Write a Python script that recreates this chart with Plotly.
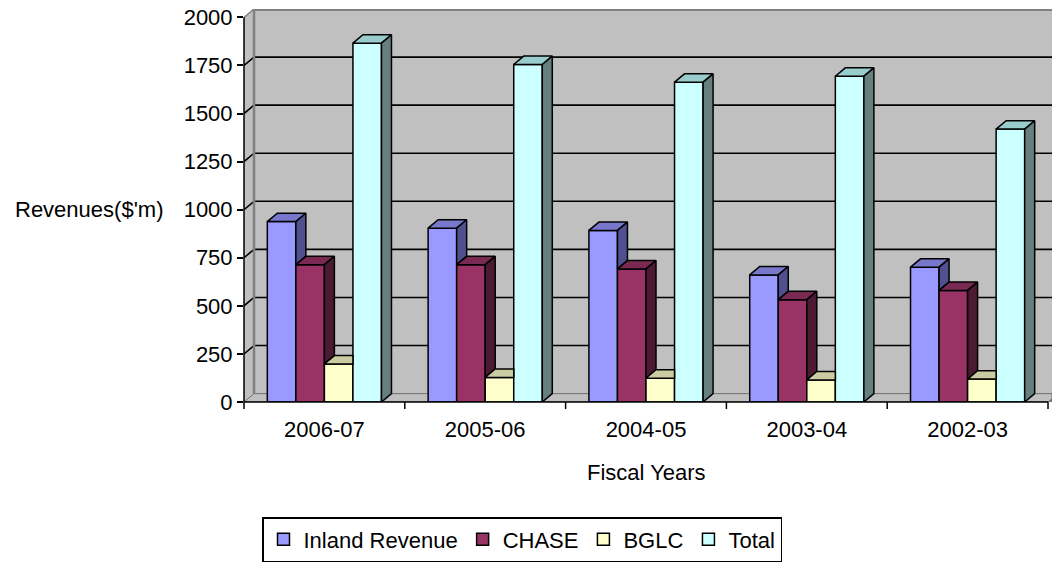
import plotly.graph_objects as go

# ---- data -------------------------------------------------------------
categories = ["2006-07", "2005-06", "2004-05", "2003-04", "2002-03"]
series_names = ["Inland Revenue", "CHASE", "BGLC", "Total"]
inland_revenue = [938, 904, 892, 661, 701]
chase = [714, 714, 692, 532, 580]
bglc = [198, 128, 124, 115, 119]
total = [1866, 1755, 1663, 1694, 1419]
y_ticks = [0, 250, 500, 750, 1000, 1250, 1500, 1750, 2000]

series_values = [inland_revenue, chase, bglc, total]

# ---- styling ----------------------------------------------------------
front_colors = ["#9999FF", "#993366", "#FFFFCC", "#CCFFFF"]
top_colors = ["#7777CC", "#7A2952", "#CCCCA3", "#99CCCC"]
side_colors = ["#505090", "#4D1A33", "#808066", "#668080"]
FONT = "Liberation Sans, Arial, sans-serif"
TEXT_SIZE = 22

W, H = 1052, 562
M_L, M_R, M_T, M_B = 244, 0, 9, 158
plot_w = W - M_L - M_R
plot_h = H - M_T - M_B

# pseudo-3D depth offset (pixels) converted into axis units
DEPTH_PX_X, DEPTH_PX_Y = 10.0, 8.4
y_max = y_ticks[-1]
px_per_val = (plot_h - DEPTH_PX_Y) / y_max
dy = DEPTH_PX_Y / px_per_val

n = len(categories)
px_per_cat = 160.8
x0 = -0.5
x_end = x0 + plot_w / px_per_cat
dx = DEPTH_PX_X / px_per_cat
bar_w = 0.1775
n_series = len(series_values)

fig = go.Figure()

# front faces of the columns
for k, (name, vals) in enumerate(zip(series_names, series_values)):
    fig.add_trace(go.Bar(
        x=list(range(n)), y=vals, name=name,
        width=bar_w, offset=(k - n_series / 2) * bar_w,
        marker=dict(color=front_colors[k], line=dict(color="black", width=1.5)),
        hoverinfo="skip",
    ))


def face(xs, ys, color):
    fig.add_trace(go.Scatter(
        x=xs + [xs[0]], y=ys + [ys[0]], mode="lines", fill="toself",
        fillcolor=color, line=dict(color="black", width=1.5),
        showlegend=False, hoverinfo="skip",
    ))


# top and right-hand faces, trimmed where the neighbouring column hides them
for j in range(n):
    for k in range(n_series):
        v = series_values[k][j]
        xl = j + (k - n_series / 2) * bar_w
        xr = xl + bar_w
        nxt = series_values[k + 1][j] if k + 1 < n_series else None
        if nxt is None or nxt <= v:
            face([xl, xr, xr + dx, xl + dx], [v, v, v + dy, v + dy], top_colors[k])
        else:
            face([xl, xr, xr, xl + dx], [v, v, v + dy, v + dy], top_colors[k])
        if nxt is None:
            face([xr, xr + dx, xr + dx, xr], [0, dy, v + dy, v], side_colors[k])
        elif v > nxt:
            face([xr, xr + dx, xr + dx, xr], [nxt, nxt + dy, v + dy, v], side_colors[k])

shapes = []
# floor
shapes.append(dict(
    type="path", xref="x", yref="y", layer="below",
    path=f"M{x0},0 L{n - 0.5},0 L{n - 0.5 + dx},{dy} L{x_end},{dy} L{x_end},0 Z",
    fillcolor="#808080", line=dict(color="#6E6E6E", width=1),
))
shapes.append(dict(
    type="path", xref="x", yref="y", layer="below",
    path=f"M{x0},0 L{x0 + dx},{dy} L{x_end},{dy}",
    line=dict(color="#6E6E6E", width=1),
))
# blank corner above the side wall
shapes.append(dict(
    type="path", xref="x", yref="y", layer="below",
    path=f"M{x0},{y_max} L{x0 + dx},{y_max + dy} L{x0},{y_max + dy} Z",
    fillcolor="white", line=dict(width=0),
))
# gridlines on the back wall and side wall
for v in y_ticks[1:-1]:
    shapes.append(dict(type="line", xref="x", yref="y", layer="below",
                       x0=x0 + dx, x1=x_end, y0=v + dy, y1=v + dy,
                       line=dict(color="black", width=1.6)))
    shapes.append(dict(type="line", xref="x", yref="y", layer="below",
                       x0=x0, x1=x0 + dx, y0=v, y1=v + dy,
                       line=dict(color="black", width=1.6)))
# wall borders
shapes.append(dict(type="line", xref="x", yref="y", layer="below",
                   x0=x0, x1=x0 + dx, y0=y_max, y1=y_max + dy,
                   line=dict(color="#808080", width=1.5)))
shapes.append(dict(type="line", xref="x", yref="y", layer="below",
                   x0=x0 + dx, x1=x_end, y0=y_max + dy, y1=y_max + dy,
                   line=dict(color="#808080", width=4)))
shapes.append(dict(type="line", xref="x", yref="y", layer="below",
                   x0=x0 + dx, x1=x0 + dx, y0=dy, y1=y_max + dy,
                   line=dict(color="#808080", width=2.5)))
# axis lines and category boundary ticks
tick_frac = 7 / plot_h
shapes.append(dict(type="line", xref="paper", yref="paper",
                   x0=0, x1=0, y0=-tick_frac, y1=y_max / (y_max + dy),
                   line=dict(color="black", width=1.5)))
shapes.append(dict(type="line", xref="x", yref="paper",
                   x0=x0, x1=n - 0.5, y0=0, y1=0,
                   line=dict(color="black", width=1.5)))
for i in range(1, n + 1):
    shapes.append(dict(type="line", xref="x", yref="paper",
                       x0=x0 + i, x1=x0 + i, y0=0, y1=-tick_frac,
                       line=dict(color="black", width=1.5)))

fig.update_layout(
    width=W, height=H,
    margin=dict(l=M_L, r=M_R, t=M_T, b=M_B, pad=0),
    paper_bgcolor="white", plot_bgcolor="#C0C0C0",
    barmode="overlay",
    font=dict(family=FONT, color="black", size=TEXT_SIZE),
    shapes=shapes,
    xaxis=dict(
        range=[x0, x_end], tickmode="array", tickvals=list(range(n)),
        ticktext=categories, ticks="", showgrid=False, zeroline=False,
        showline=False, tickfont=dict(size=TEXT_SIZE), ticklabelstandoff=12,
    ),
    yaxis=dict(
        range=[0, y_max + dy], tickmode="array", tickvals=y_ticks,
        ticks="outside", ticklen=6, tickwidth=1.5, tickcolor="black",
        showgrid=False, zeroline=False, showline=False,
        tickfont=dict(size=TEXT_SIZE),
    ),
    legend=dict(
        orientation="h", x=(262 - M_L) / plot_w, xanchor="left",
        y=(404 - 520) / plot_h, yanchor="top",
        bordercolor="black", borderwidth=1.5, bgcolor="white",
        font=dict(size=TEXT_SIZE), traceorder="normal",
    ),
    annotations=[
        dict(text="Revenues($'m)", xref="paper", yref="y",
             x=(165 - M_L) / plot_w, y=1000, xanchor="right", yanchor="middle",
             showarrow=False, font=dict(size=TEXT_SIZE)),
        dict(text="Fiscal Years", xref="x", yref="paper",
             x=(n - 1) / 2, y=(404 - 475) / plot_h, xanchor="center",
             yanchor="middle", showarrow=False, font=dict(size=TEXT_SIZE)),
    ],
)

fig.write_html("out.html")
